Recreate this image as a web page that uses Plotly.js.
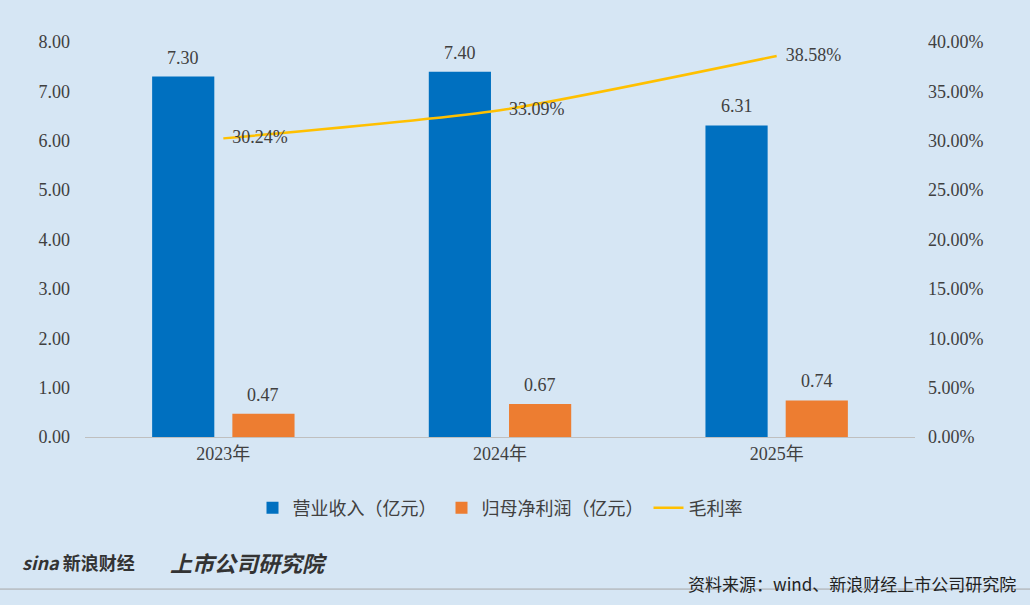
<!DOCTYPE html>
<html><head><meta charset="utf-8">
<script src="https://cdn.plot.ly/plotly-3.0.1.min.js"></script>
<style>body{margin:0;background:#d6e6f4}</style>
</head><body><div id="graph" style="width:1030px;height:605px"></div>
<script>
var years = ["2023年", "2024年", "2025年"];
var revenue = [7.30, 7.40, 6.31];
var netProfit = [0.47, 0.67, 0.74];
var grossMargin = [30.24, 33.09, 38.58];

var numFont = {family: "Liberation Serif, DejaVu Serif, serif", size: 18, color: "#404040"};
var cjk = "Liberation Serif, Noto Sans CJK SC, serif";

var traces = [
    {name: "营业收入（亿元）", type: "bar", x: years, y: revenue, marker: {color: "#0070c0"}},
    {name: "归母净利润（亿元）", type: "bar", x: years, y: netProfit, marker: {color: "#ed7d31"}},
    {name: "毛利率", type: "scatter", mode: "lines+text", x: years, y: grossMargin, yaxis: "y2",
     line: {color: "#ffc000", width: 2.5, shape: "spline", smoothing: 0.6},
     text: grossMargin.map(v => "  " + v.toFixed(2) + "%"), textposition: "middle right", textfont: numFont, cliponaxis: false}
];

var annotations = [];
years.forEach(function (yr, i) {
    annotations.push({x: yr, y: revenue[i], xshift: -40, yshift: 19, text: revenue[i].toFixed(2),
        showarrow: false, font: numFont});
    annotations.push({x: yr, y: netProfit[i], xshift: 40, yshift: 19, text: netProfit[i].toFixed(2),
        showarrow: false, font: numFont});
});
annotations.push(
    {xref: "paper", yref: "paper", x: 1.124, y: -0.37, xanchor: "right", yanchor: "middle", showarrow: false,
     text: "资料来源：wind、新浪财经上市公司研究院", font: {family: "Noto Sans CJK SC", size: 17, color: "#222"}},
    {xref: "paper", yref: "paper", x: -0.078, y: -0.316, xanchor: "left", yanchor: "middle", showarrow: false,
     text: "<b><i>sina</i> 新浪财经</b>", font: {family: "Noto Sans CJK SC", size: 18, color: "#333"}},
    {xref: "paper", yref: "paper", x: 0.1, y: -0.316, xanchor: "left", yanchor: "middle", showarrow: false,
     text: "<b><i>上市公司研究院</i></b>", font: {family: "Noto Sans CJK SC", size: 22, color: "#333"}}
);

var layout = {
    width: 1030, height: 605,
    paper_bgcolor: "#d6e6f4", plot_bgcolor: "#d6e6f4",
    margin: {l: 85, r: 115, t: 42, b: 168},
    barmode: "group", bargap: 0.42, bargroupgap: 0.225,
    font: {family: cjk, size: 18, color: "#404040"},
    showlegend: true,
    legend: {orientation: "h", x: 0.5, xanchor: "center", y: -0.18, yanchor: "middle", font: {family: cjk, size: 18}},
    xaxis: {showline: true, linecolor: "#bfbfbf", ticks: "", tickfont: {family: cjk, size: 18}},
    yaxis: {range: [0, 8], dtick: 1, tickformat: ".2f", showgrid: false, zeroline: false, tickfont: numFont, ticklabelstandoff: 14},
    yaxis2: {range: [0, 40], dtick: 5, overlaying: "y", side: "right", showgrid: false, zeroline: false,
             ticksuffix: "%", tickformat: ".2f", tickfont: numFont, ticklabelstandoff: 12},
    shapes: [{type: "line", xref: "paper", yref: "paper", x0: -0.11, x1: 1.15, y0: -0.385, y1: -0.385, line: {color: "#a6a6a6", width: 1}}],
    annotations: annotations
};

Plotly.newPlot("graph", traces, layout, {displayModeBar: false});
</script></body></html>
